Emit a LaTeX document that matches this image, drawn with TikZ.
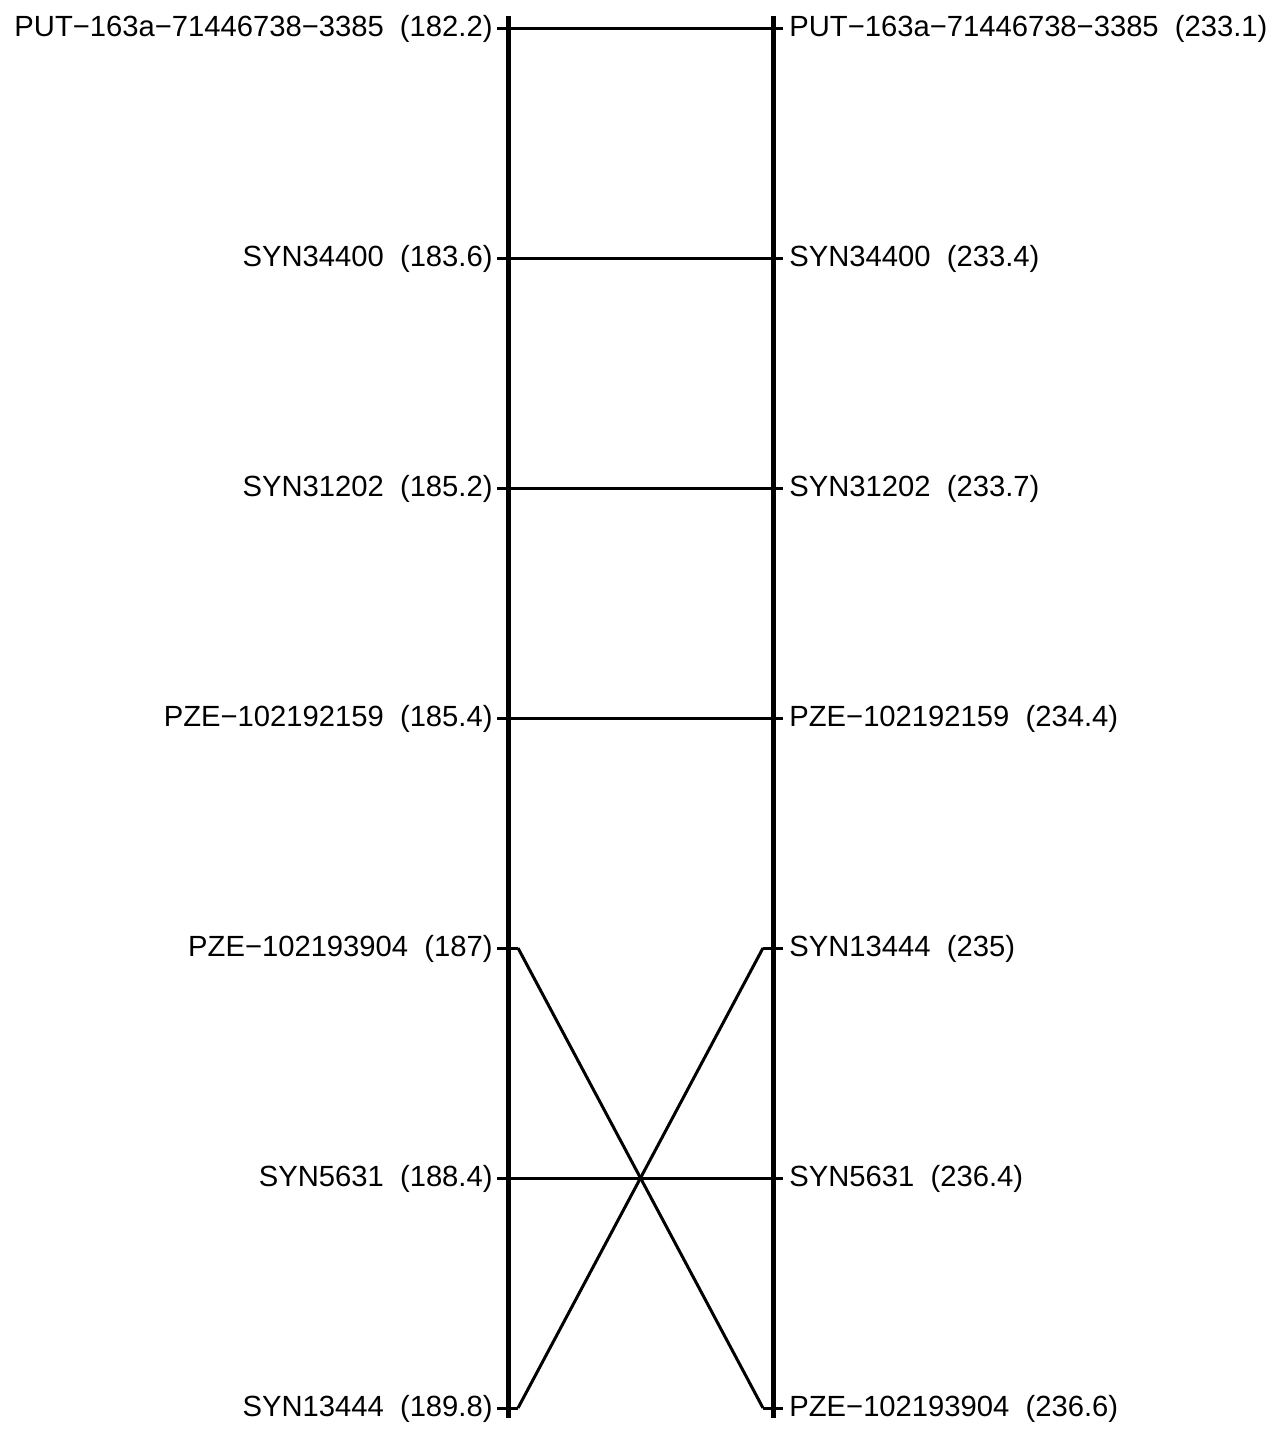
\documentclass[tikz,border=0pt]{standalone}
\usepackage{fontspec}
\setmainfont{Liberation Sans}
\usetikzlibrary{calc}

\tikzset{
  bar/.style={line width=2.5pt},
  tick/.style={line width=1.5pt},
  link/.style={line width=1.5pt},
  mlabel/.style={inner sep=0pt, font=\fontsize{14.6}{17}\selectfont},
}

\begin{document}
\begin{tikzpicture}[x=0.5pt, y=-0.5pt]
  \useasboundingbox (0,0) rectangle (1274,1431);
  % the two maps
  \coordinate (Ltop) at (508,16);
  \coordinate (Lbot) at (508,1418);
  \coordinate (Rtop) at (773,16);
  \coordinate (Rbot) at (773,1418);
  \draw[bar] (Ltop) -- (Lbot);
  \draw[bar] (Rtop) -- (Rbot);
  % left map
  \foreach \k/\lab in {1/PUT−163a−71446738−3385~~(182.2), 2/SYN34400~~(183.6),
      3/SYN31202~~(185.2), 4/PZE−102192159~~(185.4), 5/PZE−102193904~~(187),
      6/SYN5631~~(188.4), 7/SYN13444~~(189.8)} {
    \pgfmathsetmacro{\y}{28+230*(\k-1)}
    \coordinate (la\k) at (497,\y);
    \coordinate (lb\k) at (518,\y);
    \draw[tick] (la\k) -- (lb\k);
    \node[mlabel, anchor=base east] (l\k) at (493,\y+8) {\lab};
  }
  % right map
  \foreach \k/\lab in {1/PUT−163a−71446738−3385~~(233.1), 2/SYN34400~~(233.4),
      3/SYN31202~~(233.7), 4/PZE−102192159~~(234.4), 5/SYN13444~~(235),
      6/SYN5631~~(236.4), 7/PZE−102193904~~(236.6)} {
    \pgfmathsetmacro{\y}{28+230*(\k-1)}
    \coordinate (ra\k) at (763,\y);
    \coordinate (rb\k) at (783,\y);
    \draw[tick] (ra\k) -- (rb\k);
    \node[mlabel, anchor=base west] (r\k) at (789,\y+8) {\lab};
  }
  % links
  \draw[link] (lb1) -- (ra1);
  \draw[link] (lb2) -- (ra2);
  \draw[link] (lb3) -- (ra3);
  \draw[link] (lb4) -- (ra4);
  \draw[link] (lb6) -- (ra6);
  \draw[link] (lb5) -- (ra7);
  \draw[link] (lb7) -- (ra5);
\end{tikzpicture}
\end{document}
